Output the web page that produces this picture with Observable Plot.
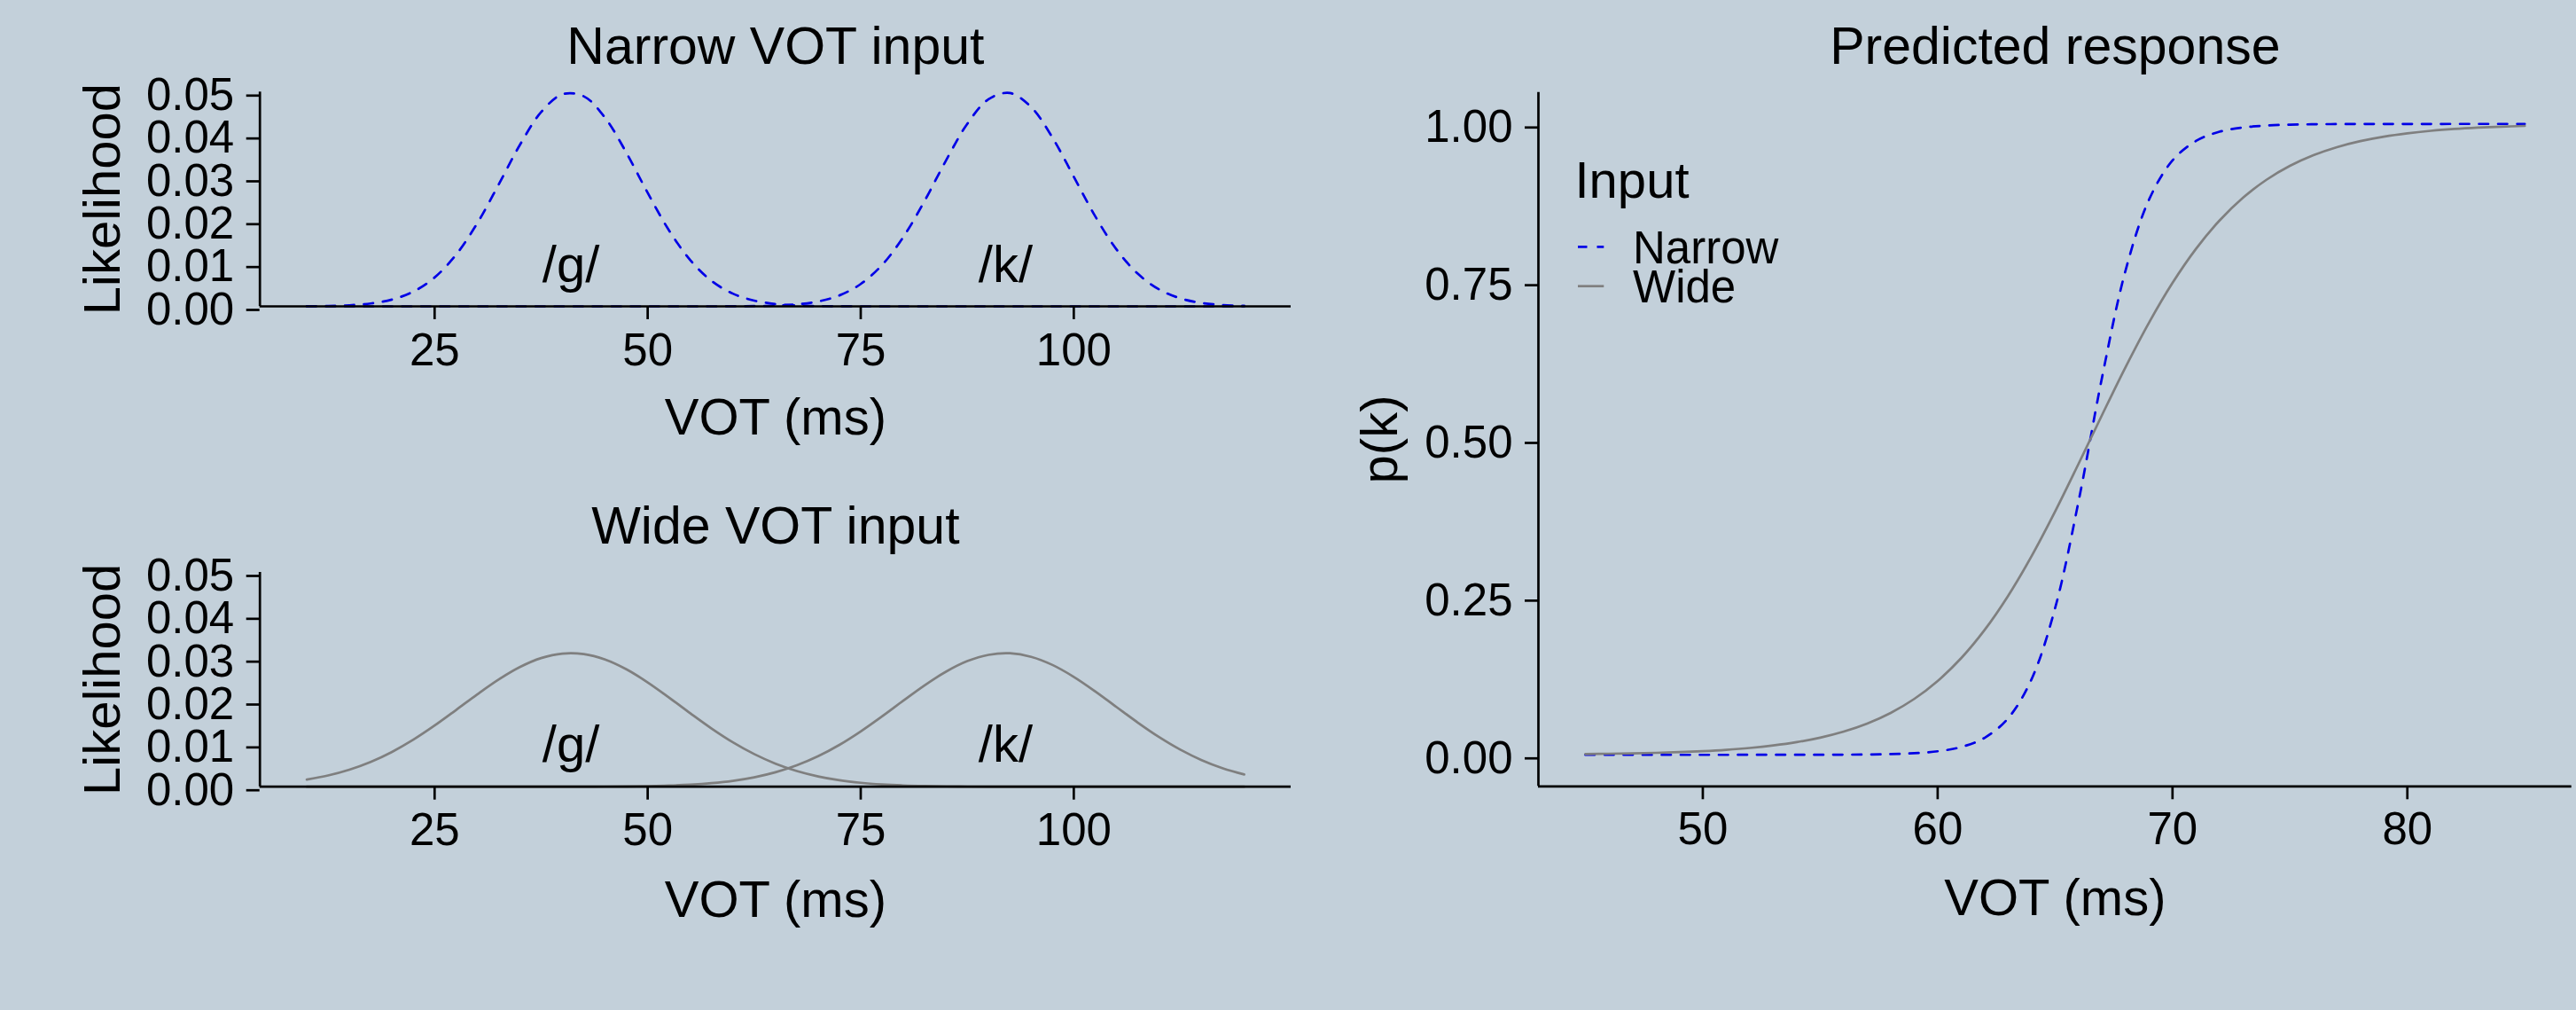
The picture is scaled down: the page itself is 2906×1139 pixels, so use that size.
<!DOCTYPE html>
<html>
<head>
<meta charset="utf-8">
<script src="https://cdn.jsdelivr.net/npm/d3@7"></script>
<script src="https://cdn.jsdelivr.net/npm/@observablehq/plot@0.6"></script>
<style>
  html, body { margin: 0; padding: 0; background: #c3d0da; }
  #root { position: relative; width: 2906px; height: 1139px; background: #c3d0da; overflow: hidden; }
  #root > .panel { position: absolute; }
</style>
</head>
<body>
<div id="root"></div>
<script>
const FONT = '"Liberation Sans", Arial, Helvetica, sans-serif';

// ---------- Data: likelihood panels (VOT grid, ms) ----------
const vot = [10, 12.5, 15, 17.5, 20, 22.5, 25, 27.5, 30, 32.5, 35, 37.5, 40, 42.5, 45, 47.5, 50, 52.5, 55, 57.5,
             60, 62.5, 65, 67.5, 70, 72.5, 75, 77.5, 80, 82.5, 85, 87.5, 90, 92.5, 95, 97.5, 100, 102.5, 105, 107.5,
             110, 112.5, 115, 117.5, 120];

const narrowG = [0.00003, 0.00009, 0.00025, 0.00067, 0.00159, 0.00344, 0.00675, 0.01201, 0.01938, 0.02836,
                 0.03764, 0.04532, 0.04948, 0.04900, 0.04401, 0.03585, 0.02649, 0.01775, 0.01079, 0.00594,
                 0.00297, 0.00135, 0.00055, 0.00021, 0.00007, 0.00002, 0, 0, 0, 0,
                 0, 0, 0, 0, 0, 0, 0, 0, 0, 0,
                 0, 0, 0, 0, 0];
const narrowK = [0, 0, 0, 0, 0, 0, 0, 0, 0, 0,
                 0, 0, 0, 0, 0, 0, 0, 0, 0, 0,
                 0.00002, 0.00006, 0.00017, 0.00046, 0.00114, 0.00256, 0.00522, 0.00965, 0.01619, 0.02464,
                 0.03401, 0.04257, 0.04833, 0.04977, 0.04648, 0.03937, 0.03025, 0.02107, 0.01332, 0.00763,
                 0.00397, 0.00187, 0.00080, 0.00031, 0.00011];
const wideG = [0.00166, 0.00262, 0.00397, 0.00578, 0.00812, 0.01097, 0.01427, 0.01787, 0.02154, 0.02499,
               0.02791, 0.03001, 0.03106, 0.03094, 0.02967, 0.02739, 0.02434, 0.02082, 0.01714, 0.01358,
               0.01036, 0.00761, 0.00538, 0.00366, 0.00240, 0.00151, 0.00092, 0.00054, 0.00030, 0.00016,
               0.00009, 0.00004, 0.00002, 0.00001, 0, 0, 0, 0, 0, 0,
               0, 0, 0, 0, 0];
const wideK = [0, 0, 0, 0, 0, 0, 0, 0, 0, 0,
               0, 0, 0.00001, 0.00002, 0.00004, 0.00007, 0.00014, 0.00027, 0.00048, 0.00083,
               0.00137, 0.00219, 0.00337, 0.00500, 0.00712, 0.00977, 0.01291, 0.01641, 0.02008, 0.02366,
               0.02683, 0.02929, 0.03077, 0.03113, 0.03031, 0.02841, 0.02563, 0.02226, 0.01861, 0.01498,
               0.01160, 0.00865, 0.00621, 0.00429, 0.00286];

const categoryLabels = ["/g/", "/k/"];
const categoryMeans = [41, 92];
const categoryLabelY = [0.01, 0.01];

const likTicks = [0, 0.01, 0.02, 0.03, 0.04, 0.05];
const votTicks = [25, 50, 75, 100];

// ---------- Data: predicted response ----------
const respVot = [45, 46, 47, 48, 49, 50, 51, 52, 53, 54, 55, 56, 57, 58, 59, 60, 61, 62, 63, 64,
                 65, 66, 67, 68, 69, 70, 71, 72, 73, 74, 75, 76, 77, 78, 79, 80, 81, 82, 83, 84, 85];
const respNarrow = [0, 0, 0, 0, 0, 0, 0, 0.00001, 0.00002, 0.00005,
                    0.00010, 0.00023, 0.00052, 0.00114, 0.00253, 0.00560, 0.01234, 0.02696, 0.05791, 0.12004,
                    0.23235, 0.40178, 0.59822, 0.76765, 0.87996, 0.94209, 0.97304, 0.98766, 0.99440, 0.99747,
                    0.99886, 0.99948, 0.99977, 0.99990, 0.99995, 0.99998, 0.99999, 1.00000, 1.00000, 1.00000, 1.00000];
const respWide = [0.00125, 0.00170, 0.00232, 0.00316, 0.00431, 0.00588, 0.00801, 0.01089, 0.01481, 0.02010,
                  0.02723, 0.03679, 0.04955, 0.06642, 0.08851, 0.11702, 0.15317, 0.19796, 0.25199, 0.31496,
                  0.38557, 0.46133, 0.53867, 0.61443, 0.68504, 0.74801, 0.80204, 0.84683, 0.88298, 0.91149,
                  0.93358, 0.95046, 0.96321, 0.97277, 0.97990, 0.98519, 0.98911, 0.99200, 0.99412, 0.99569, 0.99684];
const respTicksY = [0, 0.25, 0.5, 0.75, 1];
const respTicksX = [50, 60, 70, 80];

const inputNames = ["Narrow", "Wide"];
const inputColors = ["#0000e6", "#7f7f7f"];
const inputDash = ["10.5,11", null];

// ---------- Styling ----------
const LW = 2.7;
const AXW = 2.7;
const baseStyle = {fontFamily: FONT, fontSize: "51px", color: "black", background: "transparent", overflow: "visible"};

const root = document.getElementById("root");
function place(node, left, top) {
  const d = document.createElement("div");
  d.className = "panel";
  d.style.left = left + "px";
  d.style.top = top + "px";
  d.appendChild(node);
  root.appendChild(d);
}

function densityPanel({title, g, k, color, dash, height, mTop, mBottom, titleDy, xTitleDy}) {
  const rows = [];
  [g, k].forEach((ys, s) => ys.forEach((y, i) => rows.push({vot: vot[i], lik: y, cat: categoryLabels[s]})));
  const labels = categoryLabels.map((t, i) => ({t, x: categoryMeans[i], y: categoryLabelY[i]}));
  return Plot.plot({
    width: 1540, height,
    marginLeft: 292.7, marginRight: 84, marginTop: mTop, marginBottom: mBottom,
    x: {domain: [4.5, 125.5]},
    y: {domain: [0, 0.05]},
    style: baseStyle,
    marks: [
      Plot.line(rows, {x: "vot", y: "lik", z: "cat", stroke: color, strokeWidth: LW, strokeDasharray: dash, curve: "catmull-rom"}),
      Plot.ruleY([0], {stroke: "black", strokeWidth: AXW}),
      Plot.ruleX([4.5], {stroke: "black", strokeWidth: AXW}),
      Plot.axisX({ticks: votTicks, tickSize: 15, tickPadding: 15, strokeWidth: AXW, label: null, fontSize: 51}),
      Plot.axisY({ticks: likTicks, tickFormat: d3.format(".2f"), tickSize: 15, tickPadding: 14, strokeWidth: AXW, label: null, fontSize: 51, dy: 4}),
      Plot.text(labels, {x: "x", y: "y", text: "t", fontSize: 58, dy: 2}),
      Plot.text([title], {frameAnchor: "top", textAnchor: "middle", lineAnchor: "bottom", dy: titleDy, fontSize: 59}),
      Plot.text(["VOT (ms)"], {frameAnchor: "bottom", textAnchor: "middle", lineAnchor: "bottom", dy: xTitleDy, fontSize: 58}),
      Plot.text(["Likelihood"], {frameAnchor: "left", textAnchor: "middle", rotate: -90, lineAnchor: "bottom", dx: -158.7, fontSize: 58})
    ]
  });
}

place(densityPanel({title: "Narrow VOT input", g: narrowG, k: narrowK, color: inputColors[0], dash: inputDash[0],
                    height: 560, mTop: 103.3, mBottom: 215, titleDy: -32.3, xTitleDy: 144}), 0, 0);
place(densityPanel({title: "Wide VOT input", g: wideG, k: wideK, color: inputColors[1], dash: inputDash[1],
                    height: 579, mTop: 85, mBottom: 252.3, titleDy: -33, xTitleDy: 147}), 0, 560);

// Predicted response
const respRows = [];
[respNarrow, respWide].forEach((ys, s) => ys.forEach((y, i) => respRows.push({vot: respVot[i], p: y, input: inputNames[s]})));
const resp = Plot.plot({
  width: 1366, height: 1139,
  marginLeft: 195, marginRight: 5.3, marginTop: 103.7, marginBottom: 252.7,
  x: {domain: [43, 87]},
  y: {domain: [-0.05, 1.05]},
  style: baseStyle,
  marks: [
    ...inputNames.map((name, s) => Plot.line(respRows.filter(d => d.input === name),
      {x: "vot", y: "p", stroke: inputColors[s], strokeWidth: LW, strokeDasharray: inputDash[s], curve: "catmull-rom"})),
    Plot.ruleY([-0.05], {stroke: "black", strokeWidth: AXW}),
    Plot.ruleX([43], {stroke: "black", strokeWidth: AXW}),
    Plot.axisX({ticks: respTicksX, tickSize: 15, tickPadding: 14, strokeWidth: AXW, label: null, fontSize: 51}),
    Plot.axisY({ticks: respTicksY, tickFormat: d3.format(".2f"), tickSize: 15, tickPadding: 14, strokeWidth: AXW, label: null, fontSize: 51, dy: 4}),
    Plot.text(["Predicted response"], {frameAnchor: "top", textAnchor: "middle", lineAnchor: "bottom", dy: -32.7, fontSize: 59}),
    Plot.text(["VOT (ms)"], {frameAnchor: "bottom", textAnchor: "middle", lineAnchor: "bottom", dy: 144.7, fontSize: 58}),
    Plot.text(["p(k)"], {frameAnchor: "left", textAnchor: "middle", rotate: -90, lineAnchor: "bottom", dx: -160, fontSize: 58})
  ]
});
place(resp, 1540, 0);

// Legend (inside the response panel)
const legend = d3.create("svg").attr("width", 400).attr("height", 230)
  .style("font-family", FONT).style("overflow", "visible");
legend.append("text").attr("x", 16.5).attr("y", 73.3).attr("font-size", 58).attr("fill", "black").text("Input");
inputNames.forEach((name, i) => {
  const yKey = 128.3 + i * 44.4;
  const yTxt = 147.3 + i * 43.4;
  legend.append("line").attr("x1", 20).attr("x2", 49.3).attr("y1", yKey).attr("y2", yKey)
    .attr("stroke", inputColors[i]).attr("stroke-width", LW)
    .attr("stroke-dasharray", inputDash[i]);
  legend.append("text").attr("x", 82).attr("y", yTxt).attr("font-size", 51).attr("fill", "black").text(name);
});
place(legend.node(), 1760, 150);
</script>
</body>
</html>
